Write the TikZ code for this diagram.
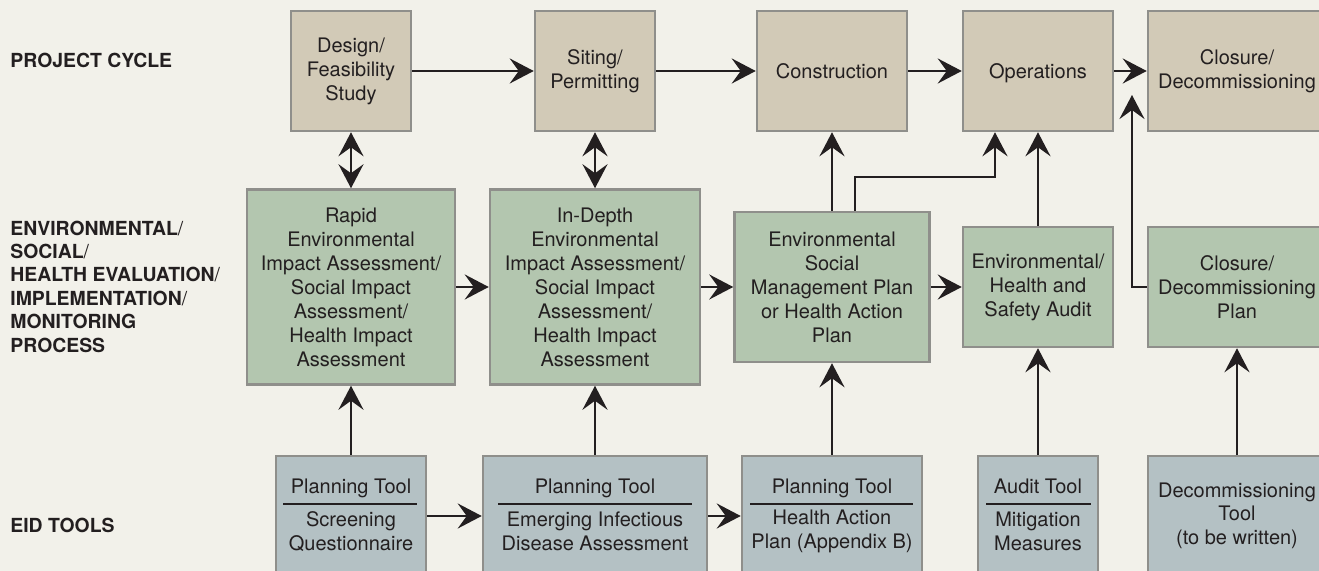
\documentclass[tikz,border=0pt]{standalone}
\usepackage{fontspec}
\setmainfont{TeX Gyre Heros}
\usetikzlibrary{arrows.meta}
\definecolor{bg}{HTML}{F2F1EA}
\definecolor{tan}{HTML}{D2CAB7}
\definecolor{green}{HTML}{B3C6AF}
\definecolor{bluegray}{HTML}{B4C1C4}
\definecolor{bord}{HTML}{8F8F8B}
\definecolor{ink}{HTML}{231F20}
\begin{document}
\begin{tikzpicture}[x=0.5pt,y=-0.5pt,
  box/.style={draw=bord, line width=1.25pt, inner sep=0pt, align=center,
    font=\fontsize{10}{12}\selectfont, text=ink},
  topbox/.style={box, fill=tan, minimum height=60pt},
  midbox/.style={box, fill=green},
  botbox/.style={box, fill=bluegray, minimum height=60pt},
  txt/.style={inner sep=0pt, align=center, font=\fontsize{10}{11.7}\selectfont, text=ink},
  lbl/.style={inner sep=0pt, anchor=west, align=left, font=\fontsize{9.7}{11.7}\selectfont\bfseries, text=ink},
  sep/.style={draw=ink, line width=1pt},
  tip/.tip={Stealth[length=12pt,width=12.5pt,inset=4.5pt]},
  arr/.style={draw=ink, line width=1.35pt, -tip},
  darr/.style={draw=ink, line width=1.35pt, tip-tip},
]
\path[use as bounding box, fill=bg] (0,0) rectangle (1319,571);
\clip (0,0) rectangle (1319,571);

% left labels
\node[lbl] (lab1) at (10,60) {PROJECT CYCLE};
\node[lbl] (lab2) at (10,286.5) {ENVIRONMENTAL{\mdseries/}\\SOCIAL{\mdseries/}\\HEALTH EVALUATION{\mdseries/}\\IMPLEMENTATION{\mdseries/}\\MONITORING\\PROCESS};
\node[lbl] (lab3) at (10,525) {EID TOOLS};

% top row
\node[topbox, minimum width=60pt] (design) at (351,71) {Design/\\Feasibility\\Study};
\node[topbox, minimum width=60pt] (siting) at (595,71) {Siting/\\Permitting};
\node[topbox, minimum width=75pt] (construction) at (832,71) {Construction};
\node[topbox, minimum width=75pt, text depth=0pt] (operations) at (1038,71) {Operations};
\node[topbox, minimum width=89pt] (closure) at (1237,71) {Closure/\\Decommissioning};

% middle row
\node[midbox, minimum width=104pt, minimum height=97.5pt] (rapid) at (351,287) {Rapid\\Environmental\\Impact Assessment/\\Social Impact\\Assessment/\\Health Impact\\Assessment};
\node[midbox, minimum width=105pt, minimum height=97.5pt] (indepth) at (595,287) {In-Depth\\Environmental\\Impact Assessment/\\Social Impact\\Assessment/\\Health Impact\\Assessment};
\node[midbox, minimum width=97.5pt, minimum height=75pt] (emp) at (832,287) {Environmental\\Social\\Management Plan\\or Health Action\\Plan};
\node[midbox, minimum width=75pt, minimum height=60pt] (audit) at (1038,287) {Environmental/\\Health and\\Safety Audit};
\node[midbox, minimum width=89pt, minimum height=60pt] (closplan) at (1237,287) {Closure/\\Decommissioning\\Plan};

% bottom row
\node[botbox, minimum width=75pt] (screening) at (351,516) {};
\node[botbox, minimum width=112pt] (eida) at (595,516) {};
\node[botbox, minimum width=90pt] (hap) at (832,516) {};
\node[botbox, minimum width=60pt] (audittool) at (1038,516) {};
\node[botbox, minimum width=89pt] (decomm) at (1237,516) {};

\node[txt] (s1) at (351,488) {Planning Tool};
\draw[sep] (283,504) -- (417,504);
\node[txt] (s2) at (351,531.5) {Screening\\Questionnaire};
\node[txt] (e1) at (595,488) {Planning Tool};
\draw[sep] (498,504) -- (692,504);
\node[txt] (e2) at (595,531.5) {Emerging Infectious\\Disease Assessment};
\node[txt] (h1) at (832,488) {Planning Tool};
\draw[sep] (750,504) -- (913,504);
\node[txt] (h2) at (832,531.5) {Health Action\\Plan (Appendix B)};
\node[txt] (a1) at (1038,488) {Audit Tool\vphantom{g}};
\draw[sep] (986,504) -- (1091,504);
\node[txt] (a2) at (1038,531.5) {Mitigation\\Measures};
\node[txt] (d1) at (1237,515.5) {Decommissioning\\Tool\\(to be written)};

% connectors
\draw[arr] (design) -- (siting);
\draw[arr] (siting) -- (construction);
\draw[arr] (construction) -- (operations);
\draw[arr] (operations) -- (closure);
\draw[darr] (design) -- (rapid);
\draw[darr] (siting) -- (indepth);
\draw[arr] (rapid) -- (indepth);
\draw[arr] (indepth) -- (emp);
\draw[arr] (emp) -- (audit);
\draw[arr] (emp) -- (construction);
\draw[arr] (audit) -- (operations);
\draw[arr] (screening) -- (rapid);
\draw[arr] (eida) -- (indepth);
\draw[arr] (hap) -- (emp);
\draw[arr] (audittool) -- (audit);
\draw[arr] (decomm) -- (closplan);
\draw[arr] (screening) -- (eida);
\draw[arr] (eida) -- (hap);
\coordinate (k1) at (855,177);
\coordinate (k2) at (995,177);
\draw[arr] (emp.north -| k1) -- (k1) -- (k2) -- (operations.south -| k2);
\coordinate (k3) at (1132,287);
\coordinate (k4) at (1132,95);
\draw[arr] (closplan.west) -- (k3) -- (k4);
\end{tikzpicture}
\end{document}
